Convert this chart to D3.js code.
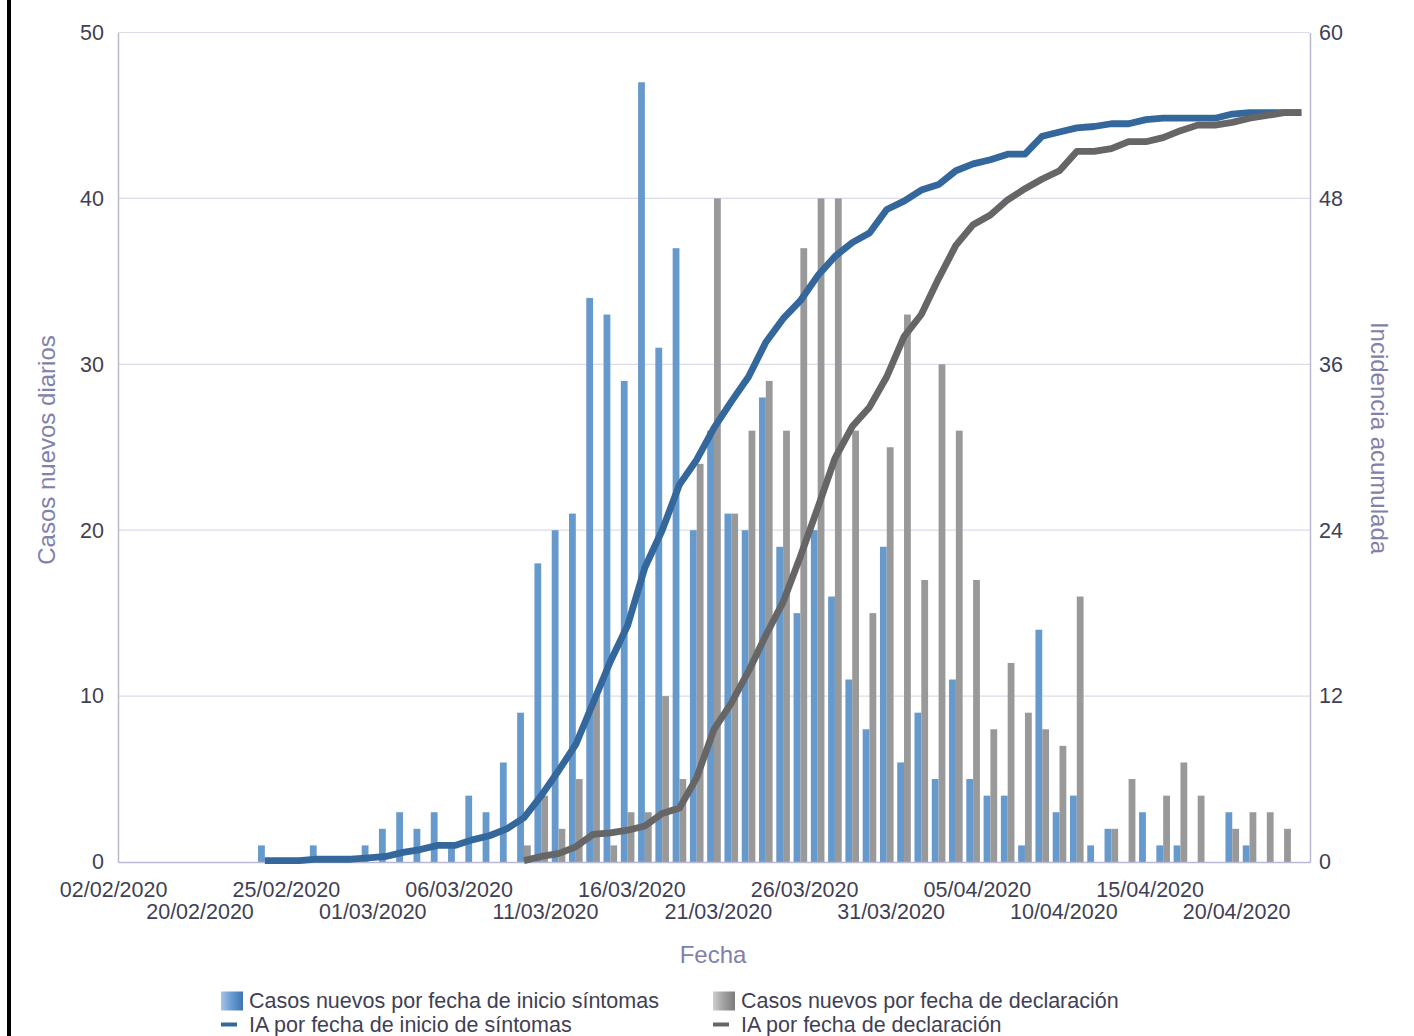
<!DOCTYPE html>
<html>
<head>
<meta charset="utf-8">
<script src="https://cdn.jsdelivr.net/npm/d3@7"></script>
<style>
  body { margin: 0; background: #fff; }
  svg { display: block; font-family: 'Liberation Sans', Arial, sans-serif; }
</style>
</head>
<body>
<svg id="chart" width="1414" height="1036"></svg>
<script>
// categorias del eje X (una por barra)
const categories = [
  '02/02/2020', '16/02/2020', '17/02/2020', '18/02/2020', '19/02/2020',
  '20/02/2020', '21/02/2020', '22/02/2020', '23/02/2020', '24/02/2020',
  '25/02/2020', '26/02/2020', '27/02/2020', '28/02/2020', '29/02/2020',
  '01/03/2020', '02/03/2020', '03/03/2020', '04/03/2020', '05/03/2020',
  '06/03/2020', '07/03/2020', '08/03/2020', '09/03/2020', '10/03/2020',
  '11/03/2020', '12/03/2020', '13/03/2020', '14/03/2020', '15/03/2020',
  '16/03/2020', '17/03/2020', '18/03/2020', '19/03/2020', '20/03/2020',
  '21/03/2020', '22/03/2020', '23/03/2020', '24/03/2020', '25/03/2020',
  '26/03/2020', '27/03/2020', '28/03/2020', '29/03/2020', '30/03/2020',
  '31/03/2020', '01/04/2020', '02/04/2020', '03/04/2020', '04/04/2020',
  '05/04/2020', '06/04/2020', '07/04/2020', '08/04/2020', '09/04/2020',
  '10/04/2020', '11/04/2020', '12/04/2020', '13/04/2020', '14/04/2020',
  '15/04/2020', '16/04/2020', '17/04/2020', '18/04/2020', '19/04/2020',
  '20/04/2020', '21/04/2020', '22/04/2020', '23/04/2020'
];

const tickLabels = [
  '02/02/2020', '20/02/2020', '25/02/2020', '01/03/2020', '06/03/2020',
  '11/03/2020', '16/03/2020', '21/03/2020', '26/03/2020', '31/03/2020',
  '05/04/2020', '10/04/2020', '15/04/2020', '20/04/2020'
];

// casos nuevos diarios
const casosInicio = [
  0, 0, 0, 0, 0, 0, 0, 0, 1, 0,
  0, 1, 0, 0, 1, 2, 3, 2, 3, 1,
  4, 3, 6, 9, 18, 20, 21, 34, 33, 29,
  47, 31, 37, 20, 26, 21, 20, 28, 19, 15,
  20, 16, 11, 8, 19, 6, 9, 5, 11, 5,
  4, 4, 1, 14, 3, 4, 1, 2, 0, 3,
  1, 1, 0, 0, 3, 1, 0, 0, 0
];

const casosDeclaracion = [
  0, 0, 0, 0, 0, 0, 0, 0, 0, 0,
  0, 0, 0, 0, 0, 0, 0, 0, 0, 0,
  0, 0, 0, 1, 4, 2, 5, 10, 1, 3,
  3, 10, 5, 24, 40, 21, 26, 29, 26, 37,
  40, 40, 26, 15, 25, 33, 17, 30, 26, 17,
  8, 12, 9, 8, 7, 16, 0, 2, 5, 0,
  4, 6, 4, 0, 2, 3, 3, 2, 0
];

// incidencia acumulada (eje derecho)
const iaInicio = [
  null, null, null, null, null, null, null, null, 0.1, 0.1,
  0.1, 0.2, 0.2, 0.2, 0.3, 0.4, 0.7, 0.9, 1.2, 1.2,
  1.6, 1.9, 2.4, 3.2, 4.8, 6.6, 8.5, 11.5, 14.5, 17.1,
  21.3, 24.0, 27.3, 29.1, 31.4, 33.3, 35.1, 37.6, 39.3, 40.6,
  42.4, 43.8, 44.8, 45.5, 47.2, 47.8, 48.6, 49.0, 50.0, 50.5,
  50.8, 51.2, 51.2, 52.5, 52.8, 53.1, 53.2, 53.4, 53.4, 53.7,
  53.8, 53.8, 53.8, 53.8, 54.1, 54.2, 54.2, 54.2, 54.2
];

const iaDeclaracion = [
  null, null, null, null, null, null, null, null, null, null,
  null, null, null, null, null, null, null, null, null, null,
  null, null, null, 0.1, 0.4, 0.6, 1.1, 2.0, 2.1, 2.3,
  2.6, 3.5, 3.9, 6.1, 9.6, 11.5, 13.8, 16.4, 18.8, 22.1,
  25.6, 29.2, 31.5, 32.9, 35.1, 38.0, 39.6, 42.2, 44.6, 46.1,
  46.8, 47.9, 48.7, 49.4, 50.0, 51.4, 51.4, 51.6, 52.1, 52.1,
  52.4, 52.9, 53.3, 53.3, 53.5, 53.8, 54.0, 54.2, 54.2
];

const leftTicks = [0, 10, 20, 30, 40, 50];
const rightTicks = [0, 12, 24, 36, 48, 60];

const svg = d3.select('#chart');
const margin = { top: 32.5, right: 104, bottom: 174, left: 118 };
const width = 1414 - margin.left - margin.right;
const height = 1036 - margin.top - margin.bottom;

const textColor = '#3f3f55';
const titleColor = '#8181ab';

svg.append('rect').attr('width', 1414).attr('height', 1036).attr('fill', '#fff');
// marco negro a la izquierda
svg.append('line')
    .attr('x1', 9).attr('x2', 9).attr('y1', 0).attr('y2', 1036)
    .attr('stroke', '#000').attr('stroke-width', 4);

const g = svg.append('g').attr('transform', `translate(${margin.left},${margin.top})`);

const x = d3.scaleBand().domain(categories).range([0, width]).padding(0);
const xSub = d3.scaleBand().domain(['inicio', 'declaracion'])
    .range([0, x.bandwidth()]).paddingInner(0).paddingOuter(0.27);
const yLeft = d3.scaleLinear().domain([0, 50]).range([height, 0]);
const yRight = d3.scaleLinear().domain([0, 60]).range([height, 0]);

// rejilla
g.append('g')
    .selectAll('line')
    .data(leftTicks.slice(1))
    .join('line')
    .attr('x1', 0).attr('x2', width)
    .attr('y1', d => yLeft(d)).attr('y2', d => yLeft(d))
    .attr('stroke', '#dcdcea').attr('stroke-width', 1.2);

// ejes Y
g.append('g')
    .call(d3.axisLeft(yLeft).tickValues(leftTicks).tickSize(0).tickPadding(14))
    .call(a => a.select('.domain').attr('stroke', '#b9b9d2').attr('stroke-width', 1.5))
    .call(a => a.selectAll('text').attr('fill', textColor).style('font-size', '21.5px')
        .style('font-family', 'Liberation Sans, Arial, sans-serif'));

g.append('g')
    .attr('transform', `translate(${width},0)`)
    .call(d3.axisRight(yRight).tickValues(rightTicks).tickSize(0).tickPadding(9))
    .call(a => a.select('.domain').attr('stroke', '#b9b9d2').attr('stroke-width', 1.5))
    .call(a => a.selectAll('text').attr('fill', textColor).style('font-size', '21.5px')
        .style('font-family', 'Liberation Sans, Arial, sans-serif'));

// barras
const bars = g.append('g');
bars.selectAll('.bar-inicio')
    .data(categories.map((c, i) => ({ c, v: casosInicio[i] })).filter(d => d.v > 0))
    .join('rect')
    .attr('class', 'bar-inicio')
    .attr('x', d => x(d.c) + xSub('inicio'))
    .attr('width', xSub.bandwidth())
    .attr('y', d => yLeft(d.v))
    .attr('height', d => height - yLeft(d.v))
    .attr('fill', '#6699cc');

bars.selectAll('.bar-declaracion')
    .data(categories.map((c, i) => ({ c, v: casosDeclaracion[i] })).filter(d => d.v > 0))
    .join('rect')
    .attr('class', 'bar-declaracion')
    .attr('x', d => x(d.c) + xSub('declaracion'))
    .attr('width', xSub.bandwidth())
    .attr('y', d => yLeft(d.v))
    .attr('height', d => height - yLeft(d.v))
    .attr('fill', '#999999');

// eje X
g.append('g')
    .attr('transform', `translate(0,${height})`)
    .call(d3.axisBottom(x).tickValues(tickLabels).tickSize(0))
    .call(a => a.select('.domain').attr('stroke', '#b9b9d2').attr('stroke-width', 1.5))
    .call(a => a.selectAll('text')
        .attr('fill', textColor)
        .style('font-size', '21.5px')
        .style('font-family', 'Liberation Sans, Arial, sans-serif')
        .attr('dx', -13)
        .attr('dy', 0)
        .attr('y', (d, i) => i % 2 === 0 ? 34.5 : 57));

// lineas de incidencia
const line = d3.line()
    .defined(d => d.v != null)
    .x(d => x(d.c) + x.bandwidth() / 2)
    .y(d => yRight(d.v));

g.append('path')
    .datum(categories.map((c, i) => ({ c, v: iaInicio[i] })))
    .attr('fill', 'none')
    .attr('stroke', '#34679b')
    .attr('stroke-width', 6.8)
    .attr('stroke-linejoin', 'round')
    .attr('d', line);

g.append('path')
    .datum(categories.map((c, i) => ({ c, v: iaDeclaracion[i] })))
    .attr('fill', 'none')
    .attr('stroke', '#666666')
    .attr('stroke-width', 6.8)
    .attr('stroke-linejoin', 'round')
    .attr('d', line);

// titulos de ejes
svg.append('text')
    .attr('transform', 'translate(55,450) rotate(-90)')
    .attr('text-anchor', 'middle')
    .attr('fill', titleColor)
    .style('font-size', '24px')
    .text('Casos nuevos diarios');

svg.append('text')
    .attr('transform', 'translate(1371,438) rotate(90)')
    .attr('text-anchor', 'middle')
    .attr('fill', titleColor)
    .style('font-size', '24px')
    .text('Incidencia acumulada');

svg.append('text')
    .attr('x', 713).attr('y', 963)
    .attr('text-anchor', 'middle')
    .attr('fill', titleColor)
    .style('font-size', '24px')
    .text('Fecha');

// leyenda
const defs = svg.append('defs');
const gradBlue = defs.append('linearGradient').attr('id', 'grad-blue');
gradBlue.append('stop').attr('offset', '0%').attr('stop-color', '#a8c6e8');
gradBlue.append('stop').attr('offset', '45%').attr('stop-color', '#6a9dd2');
gradBlue.append('stop').attr('offset', '100%').attr('stop-color', '#3f74b3');
const gradGray = defs.append('linearGradient').attr('id', 'grad-gray');
gradGray.append('stop').attr('offset', '0%').attr('stop-color', '#cfcfcf');
gradGray.append('stop').attr('offset', '45%').attr('stop-color', '#a3a3a3');
gradGray.append('stop').attr('offset', '100%').attr('stop-color', '#7c7c7c');

const legendItems = [
  { x: 221, y: 1000.5, type: 'rect', fill: 'url(#grad-blue)', label: 'Casos nuevos por fecha de inicio síntomas' },
  { x: 713, y: 1000.5, type: 'rect', fill: 'url(#grad-gray)', label: 'Casos nuevos por fecha de declaración' },
  { x: 221, y: 1024.5, type: 'line', fill: '#34679b', label: 'IA por fecha de inicio de síntomas' },
  { x: 713, y: 1024.5, type: 'line', fill: '#666666', label: 'IA por fecha de declaración' }
];

const legend = svg.append('g');
legendItems.forEach(d => {
  if (d.type === 'rect') {
    legend.append('rect')
        .attr('x', d.x).attr('y', d.y - 9)
        .attr('width', 22).attr('height', 19)
        .attr('fill', d.fill);
  } else {
    legend.append('line')
        .attr('x1', d.x).attr('x2', d.x + 16)
        .attr('y1', d.y).attr('y2', d.y)
        .attr('stroke', d.fill).attr('stroke-width', 4);
  }
  legend.append('text')
      .attr('x', d.x + 28).attr('y', d.y + 7)
      .attr('fill', textColor)
      .style('font-size', '21.5px')
      .text(d.label);
});
</script>
</body>
</html>
